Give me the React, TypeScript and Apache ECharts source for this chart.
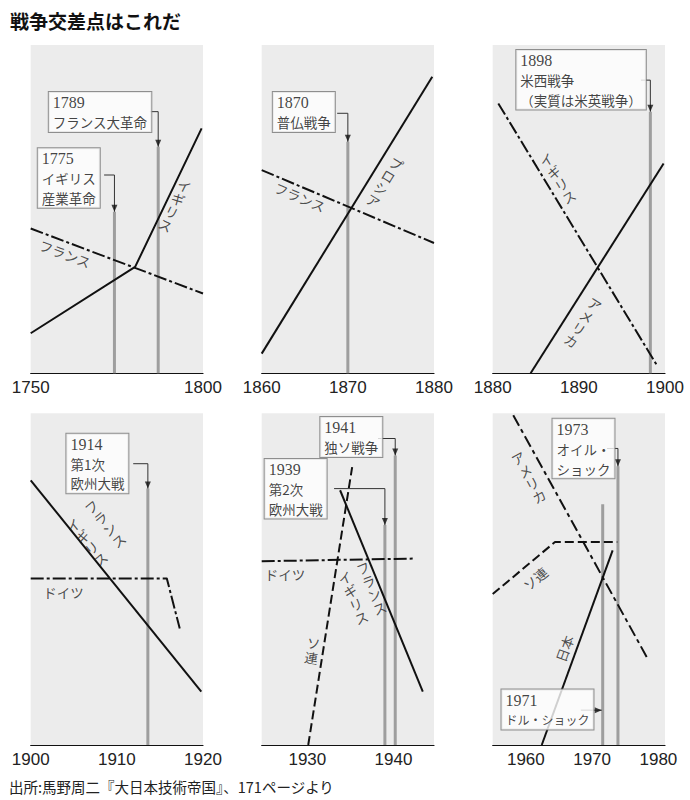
import React, { useEffect, useRef } from 'react';
import * as echarts from 'echarts';

const TITLE = '戦争交差点はこれだ';
const SOURCE = '出所:馬野周二『大日本技術帝国』、171ページより';

// ---- Panel 1: 1750–1800 ----
const p1Range = [1750, 1800];
const p1Ticks = [1750, 1800];
const p1Britain = [[1750, 12.2], [1780.3, 32.4], [1799.6, 74.6]];
const p1France = [[1750, 44.1], [1800, 24.3]];
const p1Events = [[1774.3, 49.2], [1787, 69]];

// ---- Panel 2: 1860–1880 ----
const p2Range = [1860, 1880];
const p2Ticks = [1860, 1870, 1880];
const p2Prussia = [[1860, 6.0], [1879.8, 90.3]];
const p2France = [[1860, 61.9], [1880, 39.7]];
const p2Events = [[1870, 70.5]];

// ---- Panel 3: 1880–1900 ----
const p3Range = [1880, 1900];
const p3Ticks = [1880, 1890, 1900];
const p3Britain = [[1880.65, 82.2], [1899.07, 2.4]];
const p3America = [[1884.4, 0], [1899.84, 63.9]];
const p3Events = [[1898.3, 79.7]];

// ---- Panel 4: 1900–1920 ----
const p4Range = [1900, 1920];
const p4Ticks = [1900, 1910, 1920];
const p4Allies = [[1900, 79.8], [1919.8, 16.1]];
const p4Germany = [[1900, 50.2], [1915.8, 50.2], [1917.3, 35.1]];
const p4Events = [[1913.6, 77.3]];

// ---- Panel 5: 1925–1945 ----
const p5Range = [1924.7, 1944.7];
const p5Ticks = [1930, 1940];
const p5Soviet = [[1930.1, 0], [1935.2, 83.8]];
const p5Allies = [[1933.8, 76.8], [1943.4, 16.1]];
const p5Germany = [[1924.7, 55.4], [1942.3, 56.2]];
const p5Events = [[1939.0, 66.3], [1940.2, 87.3]];

// ---- Panel 6: 1955–1981 ----
const p6Range = [1955, 1981];
const p6Ticks = [1960, 1970, 1980];
const p6America = [[1958.1, 99.4], [1978.5, 25.6]];
const p6Soviet = [[1955, 45.5], [1964.4, 61.2], [1973.8, 61.2]];
const p6Japan = [[1962.4, 0], [1973.1, 58.7]];
const p6Events = [[1971.6, 72.6], [1973.9, 84.0]];

// ---- Annotation texts ----
const p1BoxTexts = [['1775', 'イギリス', '産業革命'], ['1789', 'フランス大革命']];
const p2BoxTexts = [['1870', '普仏戦争']];
const p3BoxTexts = [['1898', '米西戦争', '（実質は米英戦争）']];
const p4BoxTexts = [['1914', '第1次', '欧州大戦']];
const p5BoxTexts = [['1939', '第2次', '欧州大戦'], ['1941', '独ソ戦争']];
const p6BoxTexts = [['1971', 'ドル・ショック'], ['1973', 'オイル・', 'ショック']];

// ---- Layout (anchor points in data coords) ----
const DASHDOT = [13, 3, 3, 3];
const DASHED = [9, 4];

const PANELS = [
  {
    range: p1Range, ticks: p1Ticks, events: p1Events,
    lines: [{ data: p1Britain }, { data: p1France, dash: DASHDOT }],
    boxes: [
      { text: p1BoxTexts[0], at: [1752.2, 68.4], link: [[1771.3, 60.4], [1774.3, 60.4], [1774.3, 49.2]] },
      { text: p1BoxTexts[1], at: [1755.4, 85.5], link: [[1784.6, 79.7], [1787, 79.7], [1787, 69]] },
    ],
    labels: [
      { text: 'フランス', at: [1760, 36.5], rot: -20.6 },
      { text: 'イギリス', at: [1791.9, 51.2], rot: -25.7, v: true },
    ],
  },
  {
    range: p2Range, ticks: p2Ticks, events: p2Events,
    lines: [{ data: p2Prussia }, { data: p2France, dash: DASHDOT }],
    boxes: [
      { text: p2BoxTexts[0], at: [1861.35, 85.5], link: [[1868.76, 79.2], [1870, 79.2], [1870, 70.5]] },
    ],
    labels: [
      { text: 'フランス', at: [1864.45, 53.75], rot: -22.9 },
      { text: 'プロシア', at: [1874.3, 58.3], rot: -31.6, v: true },
    ],
  },
  {
    range: p3Range, ticks: p3Ticks, events: p3Events,
    lines: [{ data: p3America }, { data: p3Britain, dash: DASHDOT }],
    boxes: [
      { text: p3BoxTexts[0], at: [1882.8, 98.3], link: [[1897.2, 89.3], [1898.3, 89.3], [1898.3, 79.7]] },
    ],
    labels: [
      { text: 'イギリス', at: [1887.5, 59.5], rot: 31.2, v: true },
      { text: 'アメリカ', at: [1890.5, 15.6], rot: -32.4, v: true },
    ],
  },
  {
    range: p4Range, ticks: p4Ticks, events: p4Events,
    lines: [{ data: p4Allies }, { data: p4Germany, dash: DASHDOT }],
    boxes: [
      { text: p4BoxTexts[0], at: [1904.2, 93.7], link: [[1911.9, 84.8], [1913.6, 84.8], [1913.6, 77.3]] },
    ],
    labels: [
      { text: 'ドイツ', at: [1903.8, 46.2], rot: 0 },
      { text: 'フランス', at: [1908.6, 66.8], rot: 38.9, v: true },
      { text: 'イギリス', at: [1906.5, 61.2], rot: 38.9, v: true },
    ],
  },
  {
    range: p5Range, ticks: p5Ticks, events: p5Events,
    lines: [{ data: p5Allies }, { data: p5Soviet, dash: DASHED }, { data: p5Germany, dash: DASHDOT }],
    boxes: [
      { text: p5BoxTexts[0], at: [1925.1, 86.1], link: [[1933.1, 77.3], [1939.0, 77.3], [1939.0, 66.3]] },
      { text: p5BoxTexts[1], at: [1931.56, 98.7], link: [[1938.2, 92.4], [1940.2, 92.4], [1940.2, 87.3]] },
    ],
    labels: [
      { text: 'ドイツ', at: [1927.4, 51.7], rot: 0 },
      { text: 'フランス', at: [1937.4, 47.4], rot: 22.3, v: true },
      { text: 'イギリス', at: [1935.3, 44.5], rot: 22.3, v: true },
      { text: 'ソ連', at: [1930.6, 28.6], rot: -9, v: true },
    ],
  },
  {
    range: p6Range, ticks: p6Ticks, events: p6Events,
    lines: [{ data: p6Japan }, { data: p6America, dash: [12, 4, 4, 4] }, { data: p6Soviet, dash: DASHED }],
    boxes: [
      { text: p6BoxTexts[0], at: [1956.4, 16.6], link: [[1968.3, 10.5], [1971.45, 10.5]], small: true },
      { text: p6BoxTexts[1], at: [1964.1, 98.2], link: [[1972.25, 89.4], [1973.9, 89.4], [1973.9, 84.0]] },
    ],
    labels: [
      { text: 'アメリカ', at: [1960.4, 80.8], rot: 28.9, v: true },
      { text: 'ソ連', at: [1961.4, 50.2], rot: 40 },
      { text: '日本', at: [1965.8, 29.1], rot: 70 },
    ],
  },
];

const COL_LEFT = [30.7, 261.7, 492.7];
const GRID_W = 172.3;
const ROW_TOP = [45, 413.3];
const ROW_H = [328.3, 331.7];

const FONT_JP = "'Noto Sans CJK JP', 'Noto Sans', sans-serif";
const FONT_SERIF = "'Liberation Serif', 'DejaVu Serif', 'Noto Sans CJK JP', serif";

function buildOption() {
  const grids: any[] = [];
  const xAxes: any[] = [];
  const yAxes: any[] = [];
  const series: any[] = [];
  PANELS.forEach((p, i) => {
    const col = i % 3;
    const row = Math.floor(i / 3);
    grids.push({
      left: COL_LEFT[col], top: ROW_TOP[row], width: GRID_W, height: ROW_H[row],
      show: true, backgroundColor: '#ececec', borderWidth: 0, containLabel: false,
    });
    xAxes.push({
      gridIndex: i, type: 'value', min: p.range[0], max: p.range[1],
      axisLine: { show: true, onZero: false, lineStyle: { color: '#111', width: 1.2 } },
      axisTick: { show: false }, splitLine: { show: false },
      axisLabel: {
        customValues: p.ticks, fontSize: 17, color: '#222',
        fontFamily: "'Liberation Sans', Arial, sans-serif", margin: 6,
        formatter: (v: number) => String(v),
      },
    });
    yAxes.push({ gridIndex: i, type: 'value', min: 0, max: 100, show: false });

    const base = { xAxisIndex: i, yAxisIndex: i, silent: true, animation: false };
    p.events.forEach(([yr, h]) => {
      series.push({
        ...base, type: 'line', data: [[yr, 0], [yr, h]], symbol: 'none',
        lineStyle: { color: '#9e9e9e', width: 3 }, z: 1,
      });
    });
    p.lines.forEach((l: any) => {
      series.push({
        ...base, type: 'line', data: l.data, symbol: 'none',
        lineStyle: { color: '#111', width: 2, type: l.dash || 'solid', cap: 'butt', join: 'round' }, z: 2,
      });
    });
    p.boxes.forEach((b: any) => {
      series.push({
        ...base, type: 'line', data: b.link, symbol: 'none',
        lineStyle: { color: '#333', width: 1 }, z: 3,
      });
    });
    series.push({
      ...base, type: 'scatter', symbol: 'triangle', symbolSize: [6, 7],
      itemStyle: { color: '#111' }, z: 4,
      data: p.boxes.map((b: any) => {
        const tip = b.link[b.link.length - 1];
        const prev = b.link[b.link.length - 2];
        const down = prev[0] === tip[0];
        return { value: tip, symbolRotate: down ? 180 : -90, symbolOffset: down ? [0, -3.5] : [-3.5, 0] };
      }),
    });
    series.push({
      ...base, type: 'scatter', symbolSize: 1, itemStyle: { color: 'rgba(0,0,0,0)' }, z: 5,
      label: {
        show: true, position: [0, 0], align: 'left', verticalAlign: 'top',
        backgroundColor: '#fff', borderColor: '#777', borderWidth: 1, padding: [1, 4, 0, 4],
        rich: {
          n: { fontSize: 16, fontFamily: FONT_SERIF, lineHeight: 19.5, color: '#111' },
          t: { fontSize: 13.5, fontFamily: FONT_JP, lineHeight: 19.5, color: '#111' },
          s: { fontSize: 12, fontFamily: FONT_JP, lineHeight: 19.5, color: '#111' },
        },
      },
      data: p.boxes.map((b: any) => ({
        value: b.at,
        label: {
          formatter: b.text
            .map((s: string, k: number) => (k === 0 ? `{n|${s}}` : `{${b.small ? 's' : 't'}|${s}}`))
            .join('\n'),
        },
      })),
    });
    series.push({
      ...base, type: 'scatter', symbolSize: 1, itemStyle: { color: 'rgba(0,0,0,0)' }, z: 4,
      label: {
        show: true, position: 'inside', align: 'center', verticalAlign: 'middle',
        fontSize: 13.5, lineHeight: 14.5, color: '#222', fontFamily: FONT_JP,
      },
      data: p.labels.map((l: any) => ({
        value: l.at,
        label: { formatter: l.v ? l.text.split('').join('\n') : l.text, rotate: l.rot },
      })),
    });
  });

  return {
    animation: false,
    backgroundColor: '#fff',
    title: [
      {
        text: TITLE, left: 10, top: 11, padding: 0,
        textStyle: { fontSize: 19, fontWeight: 'bold', fontFamily: FONT_JP, color: '#111' },
      },
      {
        text: SOURCE, left: 9, top: 779, padding: 0,
        textStyle: { fontSize: 14.5, fontWeight: 'normal', fontFamily: FONT_JP, color: '#222' },
      },
    ],
    grid: grids,
    xAxis: xAxes,
    yAxis: yAxes,
    series,
  };
}

export default function App() {
  const ref = useRef<HTMLDivElement>(null);
  useEffect(() => {
    if (!ref.current) return;
    const chart = echarts.init(ref.current, undefined, { renderer: 'svg' });
    chart.setOption(buildOption() as any);
    return () => chart.dispose();
  }, []);
  return (
    <div
      ref={ref}
      style={{ position: 'absolute', left: 0, top: 0, width: 690, height: 800 }}
    />
  );
}
